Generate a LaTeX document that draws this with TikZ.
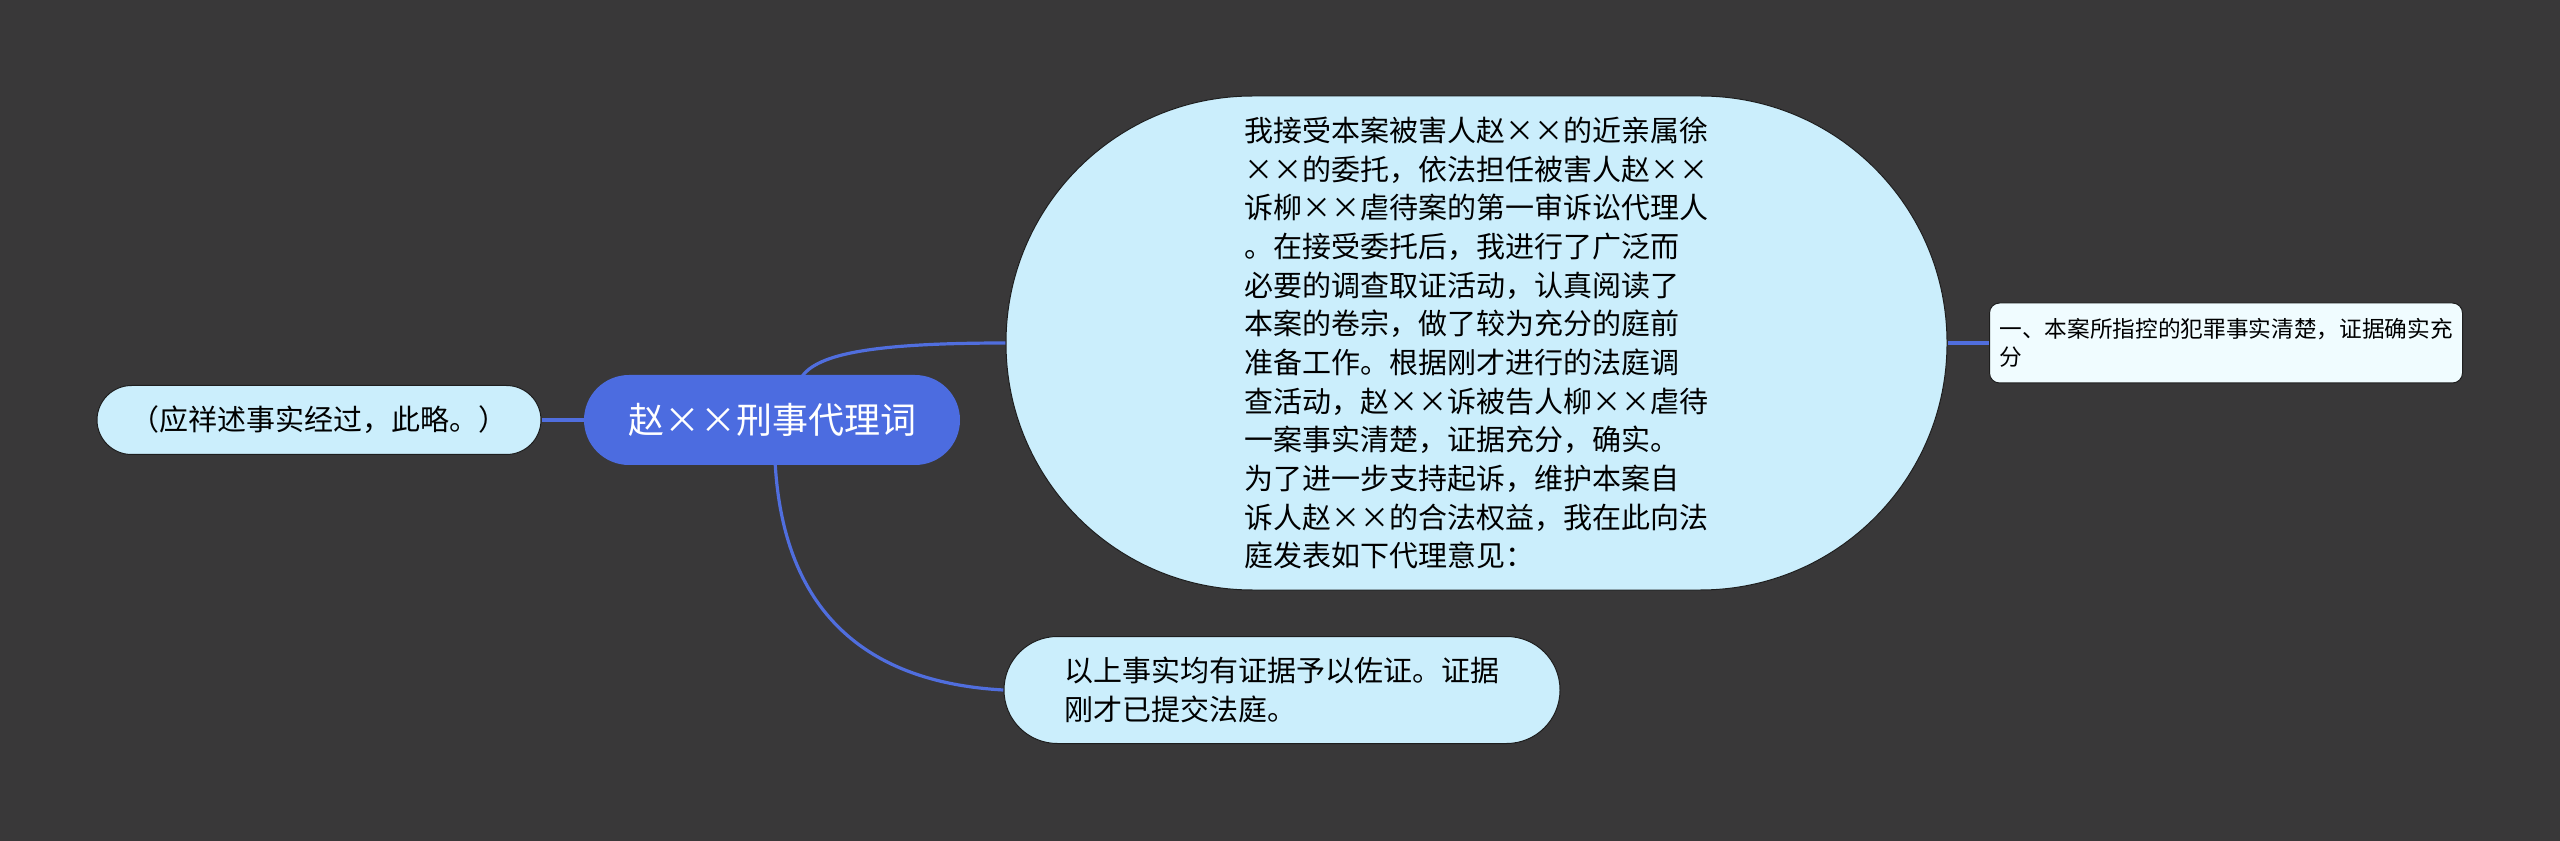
\documentclass[tikz,border=0pt]{standalone}
\usepackage{fontspec}
\setmainfont{Noto Sans CJK SC}
\usetikzlibrary{calc,backgrounds}
\definecolor{bgc}{RGB}{57,56,57}
\definecolor{rootc}{RGB}{76,108,224}
\definecolor{linec}{RGB}{80,110,222}
\definecolor{lightc}{RGB}{203,238,252}
\definecolor{palec}{RGB}{240,252,255}
\definecolor{edgec}{RGB}{30,30,30}
\begin{document}
\begin{tikzpicture}[x=0.75pt,y=-0.75pt,
  leaf/.style={draw=edgec,line width=0.75pt,fill=lightc,inner sep=0pt,align=left,text=black,
    font=\fontsize{21.75pt}{29pt}\selectfont},
  rootbox/.style={fill=rootc,inner sep=0pt,text=white,font=\fontsize{27pt}{32pt}\selectfont,
    minimum width=282pt,minimum height=67.5pt,rounded corners=33.75pt},
  smallbox/.style={draw=edgec,line width=0.75pt,fill=palec,inner sep=0pt,align=left,text=black,
    font=\fontsize{17pt}{21pt}\selectfont,minimum width=354.75pt,minimum height=60pt,rounded corners=7.5pt},
  conn/.style={draw=linec,line width=2.4pt}]
\useasboundingbox (0,0) rectangle (2560,841);
\node[rootbox] (root) at (772,420) {赵××刑事代理词};
\node[leaf,minimum width=333pt,minimum height=51.75pt,rounded corners=25.9pt] (left) at (319,420)
  {（应祥述事实经过，此略。）};
\node[leaf,minimum width=705.75pt,minimum height=370.5pt,rounded corners=185pt] (big) at (1476.5,343)
  {我接受本案被害人赵××的近亲属徐\\
   ××的委托，依法担任被害人赵××\\
   诉柳××虐待案的第一审诉讼代理人\\
   。在接受委托后，我进行了广泛而\\
   必要的调查取证活动，认真阅读了\\
   本案的卷宗，做了较为充分的庭前\\
   准备工作。根据刚才进行的法庭调\\
   查活动，赵××诉被告人柳××虐待\\
   一案事实清楚，证据充分，确实。\\
   为了进一步支持起诉，维护本案自\\
   诉人赵××的合法权益，我在此向法\\
   庭发表如下代理意见：};
\node[leaf,minimum width=417pt,minimum height=80.25pt,rounded corners=40pt] (bottom) at (1282,690)
  {以上事实均有证据予以佐证。证据\\刚才已提交法庭。};
\node[smallbox] (right) at (2226,343)
  {一、本案所指控的犯罪事实清楚，证据确实充\\分};
\begin{pgfonlayer}{background}
\fill[bgc] (0,0) rectangle (2560,841);
\draw[conn] (left.east) -- (root.west);
\draw[conn] ($(root.north)+(28,5)$) .. controls (813,355) and (866,343) .. (big.west);
\draw[conn] ($(root.south)+(3,-5)$) .. controls (780,560) and (820,680) .. (bottom.west);
\draw[conn] (big.east) -- (right.west);
\end{pgfonlayer}
\end{tikzpicture}
\end{document}
